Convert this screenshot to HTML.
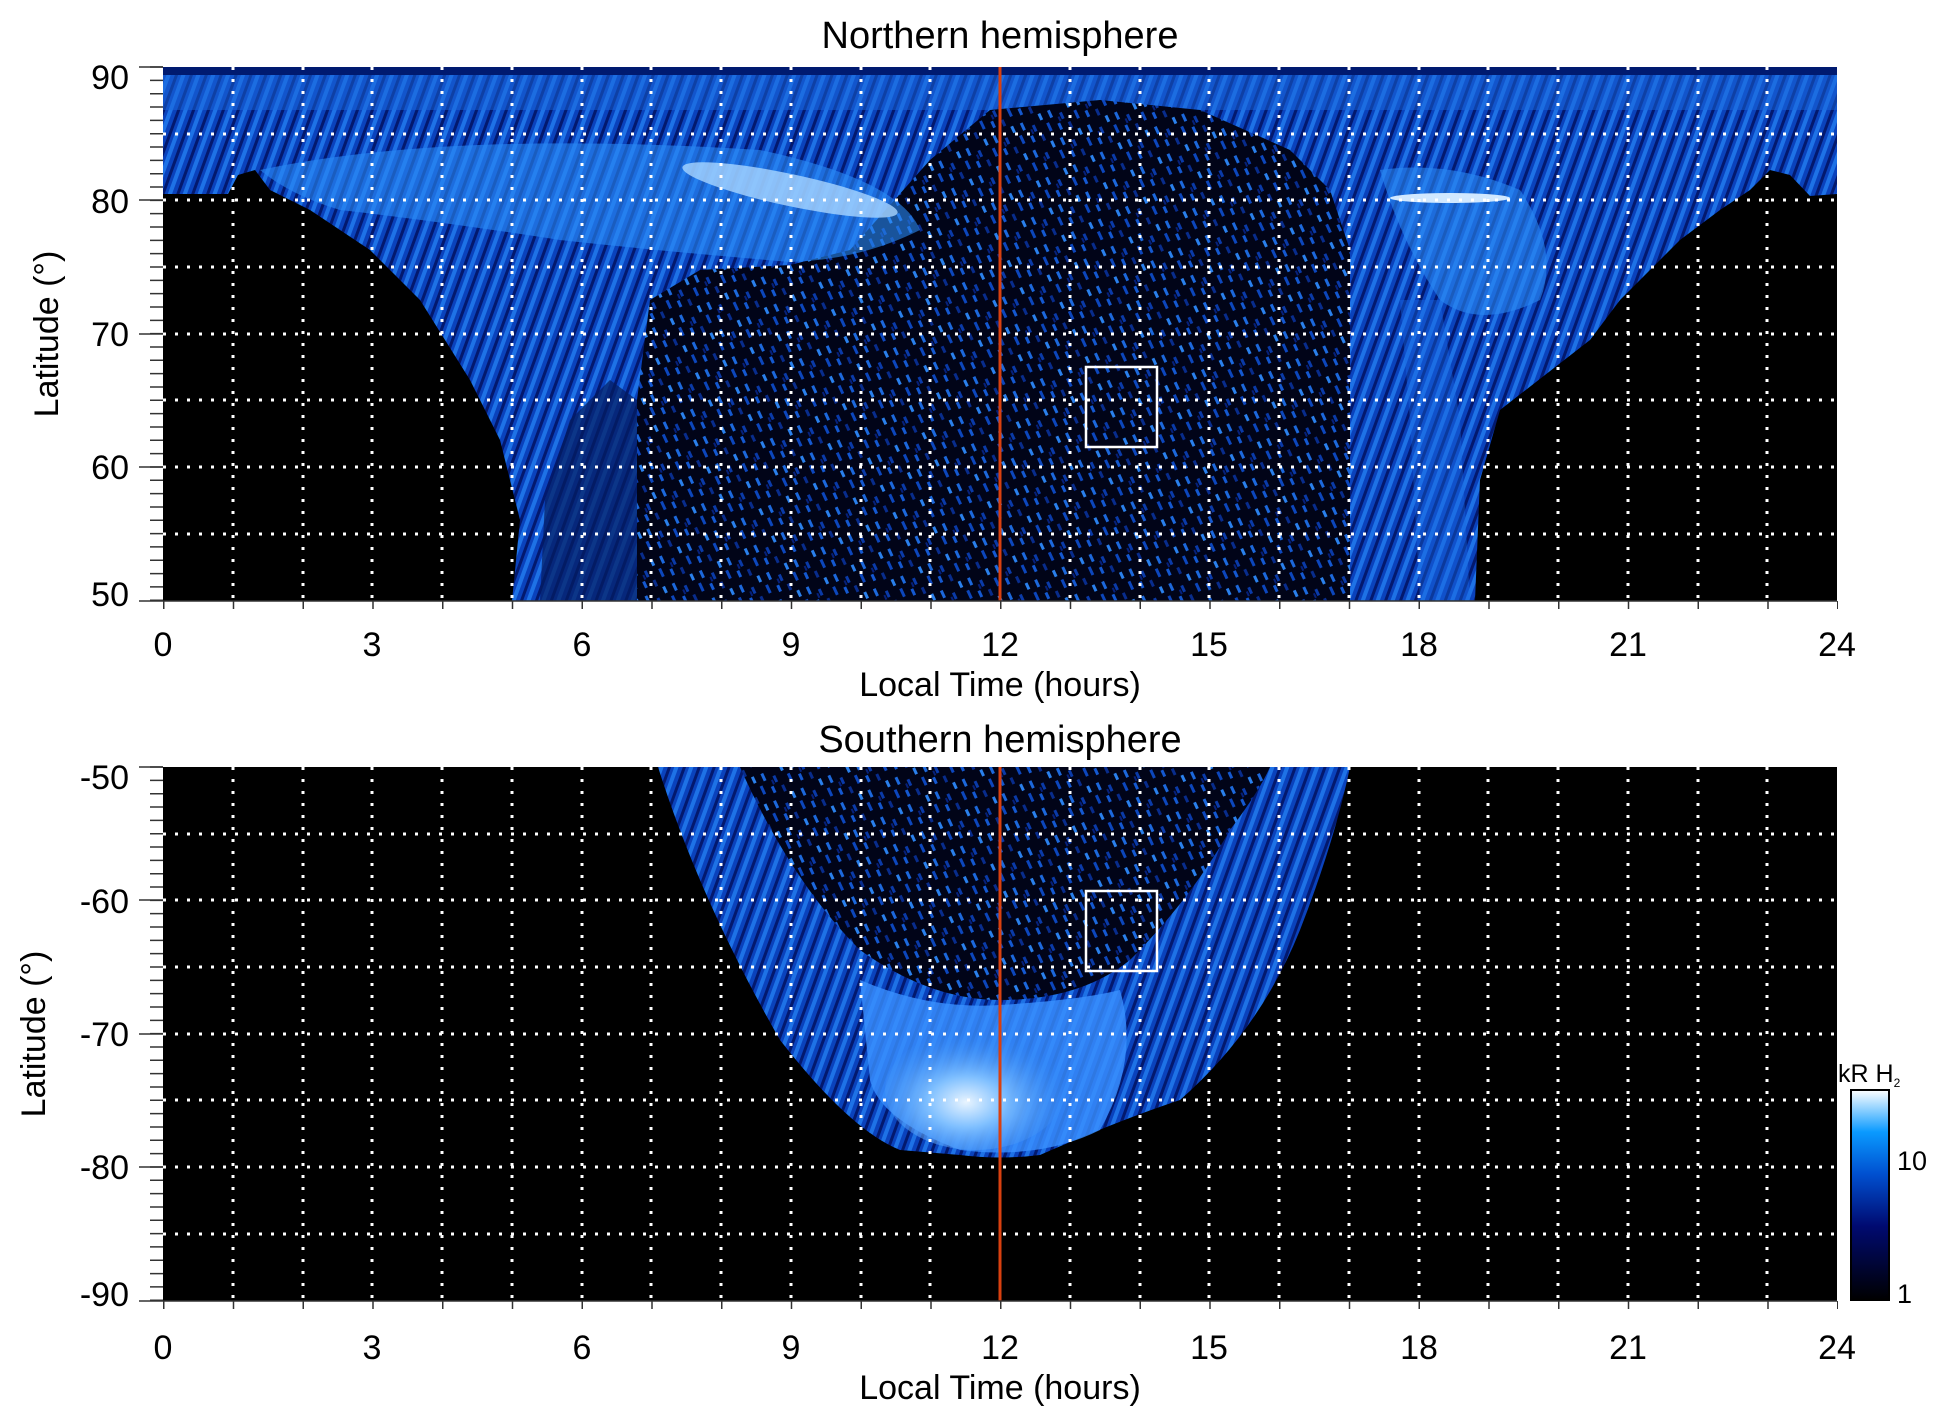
<!DOCTYPE html>
<html><head><meta charset="utf-8"><style>
html,body{margin:0;padding:0;background:#fff;}
svg{display:block;font-family:"Liberation Sans",sans-serif;}
</style></head><body>
<svg width="1950" height="1423" viewBox="0 0 1950 1423" xmlns="http://www.w3.org/2000/svg">
<defs>
<pattern id="spk" width="30" height="30" patternUnits="userSpaceOnUse" patternTransform="rotate(-25)">
<rect width="30" height="30" fill="#010418"/>
<rect x="2" y="3" width="3" height="8" fill="#1c68dc"/>
<rect x="12" y="10" width="3" height="7" fill="#0a3aa8"/>
<rect x="22" y="2" width="3" height="7" fill="#2a80ec"/>
<rect x="26" y="14" width="3" height="9" fill="#0c46bc"/>
<rect x="6" y="19" width="3" height="7" fill="#1458d0"/>
<rect x="16" y="22" width="3" height="7" fill="#082c8c"/>
<rect x="9" y="13" width="2" height="5" fill="#06207a"/>
</pattern>
<pattern id="str" width="14" height="60" patternUnits="userSpaceOnUse" patternTransform="rotate(20)">
<rect width="14" height="60" fill="#0a42bc"/>
<rect x="0" width="4" height="60" fill="#1e72e6"/>
<rect x="8" width="3" height="60" fill="#03196e"/>
</pattern>
<linearGradient id="cb" x1="0" y1="1" x2="0" y2="0">
<stop offset="0" stop-color="#000000"/>
<stop offset="0.35" stop-color="#000a70"/>
<stop offset="0.6" stop-color="#0050d0"/>
<stop offset="0.8" stop-color="#0a9aff"/>
<stop offset="1" stop-color="#ffffff"/>
</linearGradient>
<radialGradient id="sb" cx="0.45" cy="0.6" r="0.6">
<stop offset="0" stop-color="#e8f4ff"/>
<stop offset="0.35" stop-color="#80c0ff"/>
<stop offset="1" stop-color="#2a80f0" stop-opacity="0"/>
</radialGradient>
<clipPath id="cN"><rect x="163" y="67" width="1674" height="534"/></clipPath>
<clipPath id="cS"><rect x="163" y="767" width="1674" height="534"/></clipPath>
</defs>

<g clip-path="url(#cN)">
<rect x="163" y="67" width="1674" height="534" fill="#000"/>
<path d="M163,67 L1837,67 L1837,194 L1810,196 L1790,175 L1770,170 L1750,190 L1720,210 L1680,240 L1620,300 L1590,340 L1500,410 L1480,480 L1475,601 L512,601 L520,520 L500,440 L470,380 L420,300 L370,250 L310,210 L270,190 L255,170 L238,175 L228,194 L163,194 Z" fill="url(#str)"/>
<rect x="163" y="67" width="1674" height="8" fill="#001a70"/>
<path d="M163,75 L1837,75 L1837,110 L163,110 Z" fill="#1a68dc" opacity="0.5"/>
<path d="M637,601 L637,400 L650,300 L700,270 L790,265 L850,250 L930,160 L990,110 L1100,100 L1200,110 L1290,150 L1330,190 L1350,250 L1350,601 Z" fill="url(#spk)"/>
<path d="M540,601 L545,500 L570,420 L610,380 L637,400 L637,601 Z" fill="#041c60" opacity="0.7"/>
<path d="M260,170 Q450,130 760,150 Q900,180 920,230 Q860,260 790,262 Q650,250 560,240 Q430,220 340,210 Q290,195 260,170 Z" fill="#2a8af5" opacity="0.6"/>
<ellipse cx="790" cy="190" rx="110" ry="16" transform="rotate(12 790 190)" fill="#a8d4ff" opacity="0.8"/>
<path d="M1380,170 Q1450,160 1520,190 Q1560,250 1540,300 Q1480,330 1440,300 Q1400,240 1380,170 Z" fill="#2a88f2" opacity="0.6"/>
<path d="M1400,300 L1440,300 L1460,420 L1470,601 L1420,601 L1410,420 Z" fill="#1a6ae0" opacity="0.4"/>
<ellipse cx="1450" cy="198" rx="60" ry="5" fill="#d0e8ff"/>
</g>

<g clip-path="url(#cS)">
<rect x="163" y="767" width="1674" height="534" fill="#000"/>
<path d="M658,767 Q700,900 780,1040 Q850,1130 900,1150 L960,1155 Q1000,1160 1040,1155 Q1120,1120 1180,1100 Q1260,1030 1300,930 Q1335,840 1350,767 Z" fill="url(#str)"/>
<path d="M740,767 Q790,880 860,950 Q930,1000 1000,1000 Q1080,1000 1130,960 Q1190,900 1230,830 Q1260,790 1270,767 Z" fill="url(#spk)"/>
<path d="M860,980 Q930,1010 1000,1005 Q1080,1000 1120,990 Q1140,1060 1100,1130 Q1040,1160 960,1150 Q880,1120 870,1080 Z" fill="#3a90ff" opacity="0.8"/>
<ellipse cx="975" cy="1090" rx="90" ry="60" fill="url(#sb)"/>
</g>

<g stroke="#fff" stroke-width="3" stroke-dasharray="3 9" fill="none">
<path d="M233,67V601M303,67V601M372,67V601M442,67V601M512,67V601M582,67V601M651,67V601M721,67V601M791,67V601M861,67V601M930,67V601M1070,67V601M1140,67V601M1209,67V601M1279,67V601M1349,67V601M1419,67V601M1488,67V601M1558,67V601M1628,67V601M1698,67V601M1767,67V601"/>
<path d="M163,134H1837M163,200H1837M163,267H1837M163,334H1837M163,400H1837M163,467H1837M163,534H1837"/>
<path d="M233,767V1301M303,767V1301M372,767V1301M442,767V1301M512,767V1301M582,767V1301M651,767V1301M721,767V1301M791,767V1301M861,767V1301M930,767V1301M1070,767V1301M1140,767V1301M1209,767V1301M1279,767V1301M1349,767V1301M1419,767V1301M1488,767V1301M1558,767V1301M1628,767V1301M1698,767V1301M1767,767V1301"/>
<path d="M163,834H1837M163,900H1837M163,967H1837M163,1034H1837M163,1100H1837M163,1167H1837M163,1234H1837"/>
</g>
<line x1="1000" y1="67" x2="1000" y2="601" stroke="#d8400f" stroke-width="3"/>
<line x1="1000" y1="767" x2="1000" y2="1301" stroke="#d8400f" stroke-width="3"/>
<rect x="1086" y="367" width="71" height="80" fill="none" stroke="#fff" stroke-width="2.5"/>
<rect x="1086" y="891" width="71" height="80" fill="none" stroke="#fff" stroke-width="2.5"/>

<g stroke="#333" fill="none">
<line x1="156.5" y1="66.3" x2="156.5" y2="602" stroke-width="13" stroke-dasharray="1.5 11.83"/>
<line x1="156.5" y1="766.3" x2="156.5" y2="1302" stroke-width="13" stroke-dasharray="1.5 11.83"/>
<path stroke-width="1.5" d="M139,67H163M139,200H163M139,334H163M139,467H163M139,601H163M139,767H163M139,900H163M139,1034H163M139,1167H163M139,1301H163M163,601H1837M163,1301H1837"/>
<line x1="163" y1="605" x2="1838" y2="605" stroke-width="8" stroke-dasharray="1.5 68.25"/>
<line x1="163" y1="1305" x2="1838" y2="1305" stroke-width="8" stroke-dasharray="1.5 68.25"/>
</g>

<g font-size="34" fill="#000">
<text x="1000" y="48" text-anchor="middle" font-size="38">Northern hemisphere</text>
<text x="1000" y="752" text-anchor="middle" font-size="38">Southern hemisphere</text>
<g text-anchor="end">
<text x="129" y="89">90</text><text x="129" y="213">80</text><text x="129" y="346">70</text><text x="129" y="479">60</text><text x="129" y="606">50</text>
<text x="129" y="789">-50</text><text x="129" y="913">-60</text><text x="129" y="1046">-70</text><text x="129" y="1179">-80</text><text x="129" y="1306">-90</text>
</g>
<g text-anchor="middle">
<text x="163" y="656">0</text><text x="372" y="656">3</text><text x="582" y="656">6</text><text x="791" y="656">9</text><text x="1000" y="656">12</text><text x="1209" y="656">15</text><text x="1419" y="656">18</text><text x="1628" y="656">21</text><text x="1837" y="656">24</text>
<text x="163" y="1359">0</text><text x="372" y="1359">3</text><text x="582" y="1359">6</text><text x="791" y="1359">9</text><text x="1000" y="1359">12</text><text x="1209" y="1359">15</text><text x="1419" y="1359">18</text><text x="1628" y="1359">21</text><text x="1837" y="1359">24</text>
<text x="1000" y="696">Local Time (hours)</text>
<text x="1000" y="1399">Local Time (hours)</text>
</g>
<text transform="translate(58,334) rotate(-90)" text-anchor="middle">Latitude (°)</text>
<text transform="translate(45,1034) rotate(-90)" text-anchor="middle">Latitude (°)</text>
</g>

<rect x="1851" y="1090" width="38" height="210" fill="url(#cb)" stroke="#000" stroke-width="2"/>
<text x="1838" y="1082" font-size="25">kR H<tspan font-size="12" dy="5">2</tspan></text>
<text x="1897" y="1170" font-size="27">10</text>
<text x="1897" y="1303" font-size="27">1</text>
</svg>
</body></html>
